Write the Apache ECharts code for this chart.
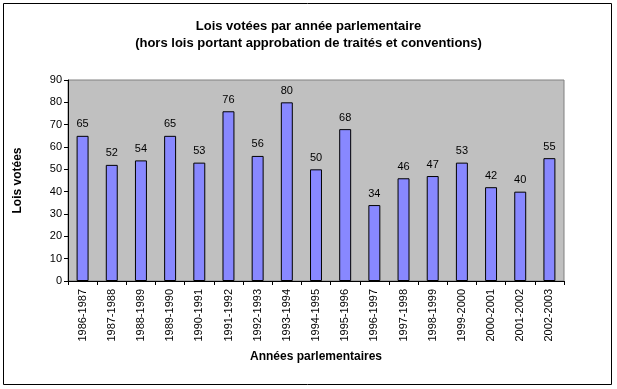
<!DOCTYPE html>
<html><head><meta charset="utf-8">
<script src="https://cdn.jsdelivr.net/npm/echarts@6/dist/echarts.min.js"></script>
<style>html,body{margin:0;padding:0;background:#fff}#c{width:617px;height:389px}</style>
</head><body><div id="c"></div>
<script>
const categories = ["1986-1987","1987-1988","1988-1989","1989-1990","1990-1991","1991-1992","1992-1993","1993-1994","1994-1995","1995-1996","1996-1997","1997-1998","1998-1999","1999-2000","2000-2001","2001-2002","2002-2003"];
const values = [65,52,54,65,53,76,56,80,50,68,34,46,47,53,42,40,55];
const yTicks = {min:0, max:90, interval:10};
const titleLines = ["Lois votées par année parlementaire","(hors lois portant approbation de traités et conventions)"];

const chart = echarts.init(document.getElementById('c'), null, {renderer:'canvas'});
const font = 'Liberation Sans, Arial, sans-serif';
chart.setOption({
  animation:false,
  backgroundColor:'#fff',
  title:{text:titleLines.join('\n'), left:'center', top:13,
    textStyle:{fontFamily:font, fontSize:13, fontWeight:'bold', color:'#000', lineHeight:17}},
  graphic:[{type:'rect', shape:{x:3.5,y:3.5,width:608,height:381}, style:{fill:null, stroke:'#000', lineWidth:1}, silent:true}],
  grid:{left:68, right:53, top:80, bottom:108, show:true, backgroundColor:'#c0c0c0', borderColor:'#808080', borderWidth:1},
  xAxis:{type:'category', data:categories, boundaryGap:true,
    name:'Années parlementaires', nameLocation:'middle', nameGap:70,
    nameTextStyle:{fontFamily:font, fontSize:12, fontWeight:'bold', color:'#000'},
    axisLine:{lineStyle:{color:'#000'}}, axisTick:{show:true, alignWithLabel:false, length:4, lineStyle:{color:'#000'}},
    axisLabel:{rotate:90, fontFamily:font, fontSize:11, color:'#000', margin:8}},
  yAxis:{type:'value', min:yTicks.min, max:yTicks.max, interval:yTicks.interval,
    name:'Lois votées', nameLocation:'middle', nameGap:44,
    nameTextStyle:{fontFamily:font, fontSize:12, fontWeight:'bold', color:'#000'},
    axisLine:{show:true, lineStyle:{color:'#000'}}, axisTick:{show:true, length:4, lineStyle:{color:'#000'}},
    splitLine:{show:false},
    axisLabel:{fontFamily:font, fontSize:11, color:'#000', margin:6}},
  series:[{type:'bar', data:values, barWidth:'41%',
    itemStyle:{color:'#8888ff', borderColor:'#000', borderWidth:1},
    label:{show:true, position:'top', distance:6, fontFamily:font, fontSize:11, color:'#000'}}]
});
</script></body></html>
